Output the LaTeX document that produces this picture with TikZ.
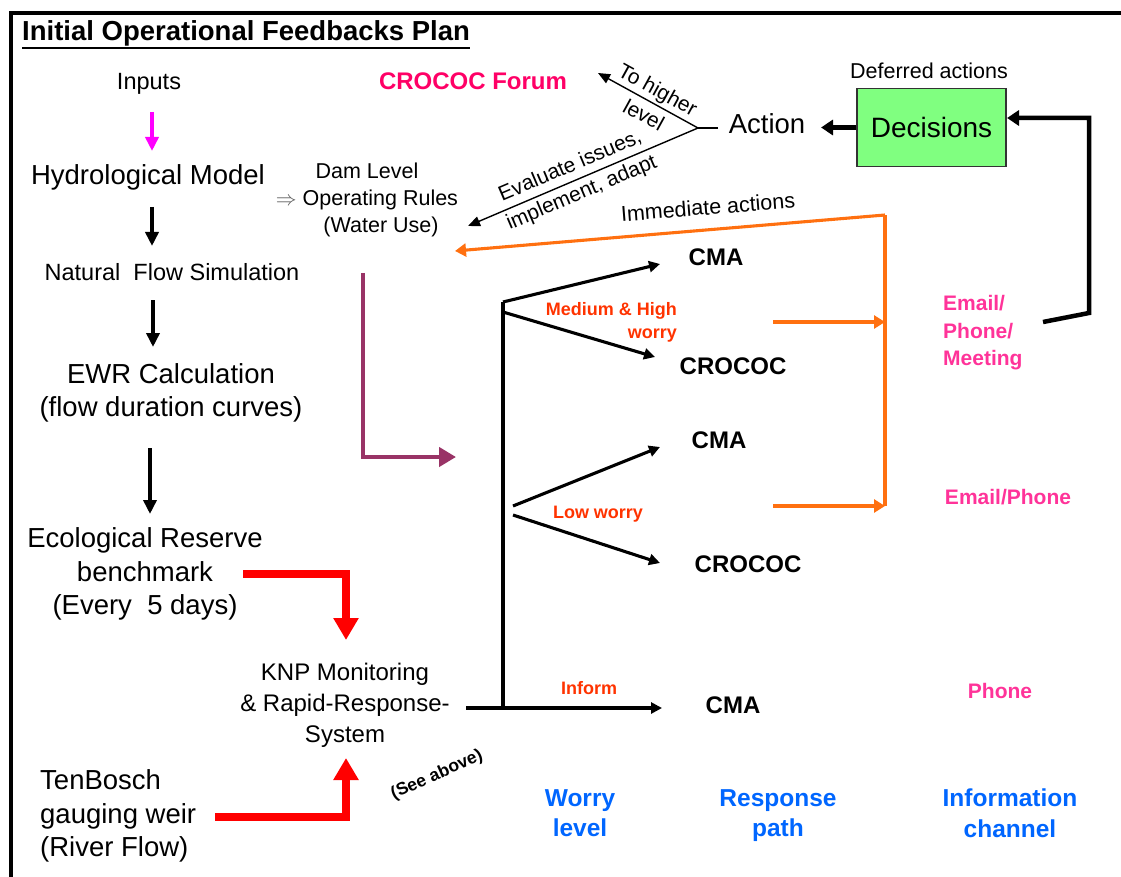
\documentclass[tikz,border=0pt]{standalone}
\usepackage{fontspec}
\setmainfont{Liberation Sans}
\usetikzlibrary{arrows.meta}
\definecolor{crocpink}{RGB}{255,0,102}
\definecolor{chanpink}{RGB}{255,51,153}
\definecolor{orng}{RGB}{255,112,16}
\definecolor{worryred}{RGB}{255,51,0}
\definecolor{lblue}{RGB}{0,102,255}
\definecolor{boxgreen}{RGB}{128,255,128}
\definecolor{plum}{RGB}{153,51,102}
\definecolor{magentaink}{RGB}{255,0,255}
\begin{document}
\begin{tikzpicture}[x=1pt,y=-1pt,
  every node/.style={inner sep=0pt, align=center},
  titlef/.style={font=\fontsize{27.5}{32}\selectfont\bfseries},
  big/.style={font=\fontsize{27.5}{33.5}\selectfont},
  medtxt/.style={font=\fontsize{23.5}{31}\selectfont},
  small/.style={font=\fontsize{21.5}{27}\selectfont},
  resp/.style={font=\fontsize{24}{30}\selectfont\bfseries},
  worrytxt/.style={font=\fontsize{18}{23}\selectfont\bfseries, text=worryred},
  chan/.style={font=\fontsize{21}{27.5}\selectfont\bfseries, text=chanpink},
  axis/.style={font=\fontsize{24.5}{30.5}\selectfont\bfseries, text=lblue, anchor=north},
  frame/.style={line width=4.5pt, line cap=rect},
  flow/.style={line width=3.6pt, -{Triangle[length=14pt,width=13pt]}},
  magflow/.style={flow, draw=magentaink},
  redflow/.style={draw=red, line width=7.5pt, line join=miter, -{Triangle[length=22pt,width=24pt]}},
  plumflow/.style={draw=plum, line width=4.5pt, line join=miter, -{Triangle[length=17pt,width=19pt]}},
  branch/.style={line width=3.1pt, -{Triangle[length=11pt,width=11pt]}},
  stem/.style={line width=3.1pt},
  orline/.style={draw=orng, line width=3.1pt},
  orflow/.style={orline, -{Triangle[length=11pt,width=13pt]}},
  thinflow/.style={line width=1.4pt, -{Triangle[length=12pt,width=10pt]}},
  fback/.style={line width=4.5pt, line join=miter, -{Triangle[length=12pt,width=15pt]}}
]
\useasboundingbox (0,0) rectangle (1121,877);

% outer frame (left and top edges)
\draw[frame] (11,877) -- (11,13) -- (1121,13);

% title
\node[titlef, anchor=base west] (title) at (22,41) {Initial Operational Feedbacks Plan};
\draw[line width=2.2pt] ([yshift=-7pt]title.base west) -- ([yshift=-7pt]title.base east);

% left column: model chain
\node[medtxt] (inputs) at (149,84) {Inputs};
\node[big] (hydro) at (148,177) {Hydrological Model};
\node[medtxt] (natflow) at (172,272) {Natural~\ Flow Simulation};
\node[big] (ewr) at (171,393) {EWR Calculation\\(flow duration curves)};
\node[big] (eco) at (145,574) {Ecological Reserve\\benchmark\\(Every~\ 5 days)};
\node[big, anchor=west, align=left] (weir) at (40,816) {TenBosch\\gauging weir\\(River Flow)};
\node[medtxt, font=\fontsize{24}{31}\selectfont] (knp) at (345,705) {KNP Monitoring\\\& Rapid-Response-\\System};

\coordinate (a1s) at (152,112); \coordinate (a1e) at (152,151);
\coordinate (a2s) at (152,207); \coordinate (a2e) at (152,246);
\coordinate (a3s) at (153,300); \coordinate (a3e) at (153,347);
\coordinate (a4s) at (150,448); \coordinate (a4e) at (150,514);
\draw[magflow] (a1s) -- (a1e);
\draw[flow] (a2s) -- (a2e);
\draw[flow] (a3s) -- (a3e);
\draw[flow] (a4s) -- (a4e);

% red inputs to the monitoring system
\coordinate (ecoout) at (243,574);
\coordinate (knptop) at (346,640);
\coordinate (weirout) at (215,817);
\coordinate (knpbot) at (346,758);
\draw[redflow] (ecoout) -| (knptop);
\draw[redflow] (weirout) -| (knpbot);

% dam operating rules and the forum
\node[small] (dam) at (367,200) {Dam Level\\{\color{black!65}$\Rightarrow$} Operating Rules\\\hspace*{28pt}(Water Use)};
\node[font=\fontsize{24}{30}\selectfont\bfseries, text=crocpink] (forum) at (473,81) {CROCOC Forum};

% plum arrow from the rules into the worry tree
\coordinate (plumtop) at (363,273);
\coordinate (plumtip) at (456,457);
\draw[plumflow] (plumtop) |- (plumtip);

% decisions and action
\node[draw=black!80, line width=1.5pt, fill=boxgreen, minimum width=149pt, minimum height=78pt,
      font=\fontsize{28}{34}\selectfont] (dec) at (931.5,127.5) {Decisions};
\node[small] (deferred) at (929,71) {Deferred actions};
\node[big] (action) at (767,124) {Action};
\draw[fback] (dec.west) -- (821,127.5) coordinate (acttip);

\coordinate (actstub) at (718,128);
\coordinate (vx) at (698,128);
\coordinate (uptip) at (598,73);
\coordinate (dntip) at (468,226);
\draw[line width=1.4pt] (actstub) -- (vx);
\draw[thinflow] (vx) -- node[sloped, font=\fontsize{21}{22}\selectfont, pos=0.47] {To higher\\[7pt]level} (uptip);
\draw[thinflow] (vx) -- node[sloped, font=\fontsize{21}{22}\selectfont, pos=0.53] {Evaluate issues,\\[7pt]implement, adapt} (dntip);

% worry tree
\coordinate (stemtop) at (503,302);
\coordinate (stemlow) at (503,312);
\coordinate (stembot) at (503,708);
\coordinate (knpout) at (466,708);
\coordinate (midup) at (513,506);
\coordinate (middn) at (513,515);

\node[resp] (cma1) at (716,257) {CMA};
\node[resp] (croc1) at (733,366) {CROCOC};
\node[resp] (cma2) at (719,440) {CMA};
\node[resp] (croc2) at (748,564) {CROCOC};
\node[resp] (cma3) at (733,705) {CMA};

\draw[stem] (stemtop) -- (stembot);
\draw[branch] (stemtop) -- (660,264) coordinate (t1);
\draw[branch] (stemlow) -- (655,357) coordinate (t2);
\draw[branch] (midup) -- (660,447) coordinate (t3);
\draw[branch] (middn) -- (660,563) coordinate (t4);
\draw[branch] (knpout) -- (662,708) coordinate (t5);

\node[worrytxt, align=right, anchor=east] (medhigh) at (677,322) {Medium \& High\\worry};
\node[worrytxt] (low) at (598,514) {Low worry};
\node[worrytxt] (inform) at (589,688) {Inform};

% information channels
\node[chan, anchor=west, align=left] (emailmeet) at (943,333) {Email/\\Phone/\\Meeting};
\node[chan] (emailph) at (1008,497) {Email/Phone};
\node[chan] (phone) at (1000,691) {Phone};

\coordinate (or1s) at (773,322); \coordinate (or1e) at (885,322);
\coordinate (or2s) at (773,506); \coordinate (or2e) at (885,506);
\coordinate (ortop) at (885,215);
\coordinate (ortip) at (455,251);
\draw[orflow] (or1s) -- (or1e);
\draw[orflow] (or2s) -- (or2e);
\draw[orline] (or2e) -- (ortop);
\draw[orflow] (ortop) -- (ortip);
\node[small, rotate=4.5] (immed) at (708,207) {Immediate actions};

% feedback from the channels to the decisions box
\coordinate (fb1) at (1043,322);
\coordinate (fb2) at (1089,313);
\draw[fback] (fb1) -- (fb2) -- (1089,118) -- (1007,118) coordinate (dectip);

% axis labels
\node[font=\fontsize{17.5}{21}\selectfont\bfseries, rotate=24] (seeabove) at (437,775) {(See above)};
\node[axis] (worry) at (580,789) {Worry\\level};
\node[axis] (response) at (778,789) {Response\\path};
\node[axis] (info) at (1010,789) {Information\\channel};
\end{tikzpicture}
\end{document}
